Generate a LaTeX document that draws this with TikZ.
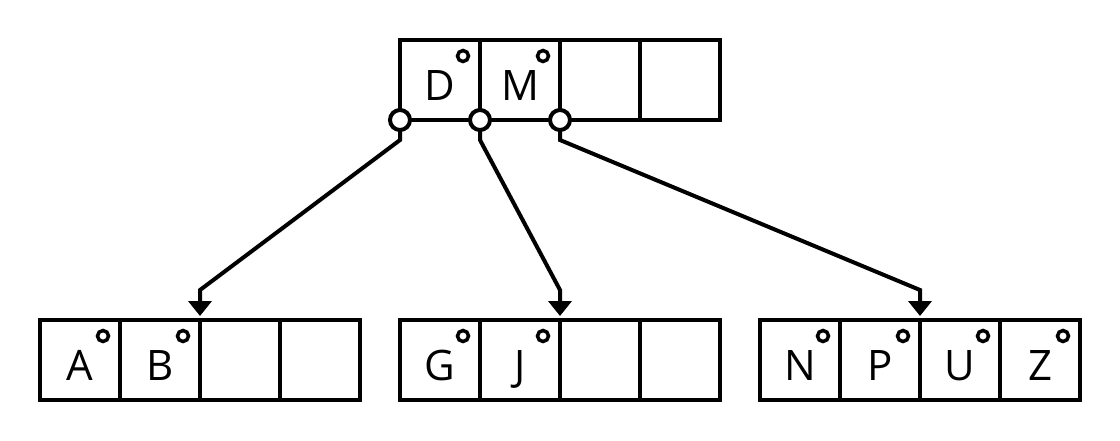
\documentclass[tikz,border=0pt]{standalone}
\usepackage{fontspec}
\setmainfont{Open Sans}
\usetikzlibrary{arrows.meta}
\begin{document}
\begin{tikzpicture}[x=1pt,y=-1pt,
  cell/.style={draw,line width=4pt,minimum size=80pt,inner sep=0pt,outer sep=0pt},
  key/.style={anchor=base,inner sep=0pt,font=\fontsize{42}{42}\selectfont},
  flag/.style={circle,draw,line width=3.5pt,minimum size=11pt,inner sep=0pt,fill=white},
  ptrdot/.style={circle,draw,line width=4pt,minimum size=20pt,inner sep=0pt,outer sep=0pt,fill=white},
  ptr/.style={line width=4pt,-{Triangle[length=15pt,width=23pt]}}]
\useasboundingbox (0,0) rectangle (1120,440);

% root page
\foreach \i/\x in {1/440,2/520,3/600,4/680}
  \node[cell] (r\i) at (\x,80) {};
\node[key] (kD) at (440,100) {D};
\node[key] (kM) at (520,100) {M};
\node[flag] (fD) at (463,56) {};
\node[flag] (fM) at (543,56) {};

% leaf pages
\foreach \i/\x in {1/80,2/160,3/240,4/320}
  \node[cell] (a\i) at (\x,360) {};
\foreach \i/\x in {1/440,2/520,3/600,4/680}
  \node[cell] (b\i) at (\x,360) {};
\foreach \i/\x in {1/800,2/880,3/960,4/1040}
  \node[cell] (c\i) at (\x,360) {};

\node[key] (kA) at (80,380) {A};
\node[key] (kB) at (160,380) {B};
\node[key] (kG) at (440,380) {G};
\node[key] (kJ) at (520,380) {J};
\node[key] (kN) at (800,380) {N};
\node[key] (kP) at (880,380) {P};
\node[key] (kU) at (960,380) {U};
\node[key] (kZ) at (1040,380) {Z};

\foreach \c/\x in {fA/103,fB/183,fG/463,fJ/543,fN/823,fP/903,fU/983,fZ/1063}
  \node[flag] (\c) at (\x,336) {};

% child pointers
\node[ptrdot] (p1) at (r1.south west) {};
\node[ptrdot] (p2) at (r2.south west) {};
\node[ptrdot] (p3) at (r3.south west) {};

\draw[ptr] (p1.south) -- ++(0,10) -- ([yshift=30pt]a3.north west) -- ([yshift=4pt]a3.north west);
\draw[ptr] (p2.south) -- ++(0,10) -- ([yshift=30pt]b3.north west) -- ([yshift=4pt]b3.north west);
\draw[ptr] (p3.south) -- ++(0,10) -- ([yshift=30pt]c3.north west) -- ([yshift=4pt]c3.north west);
\end{tikzpicture}
\end{document}
